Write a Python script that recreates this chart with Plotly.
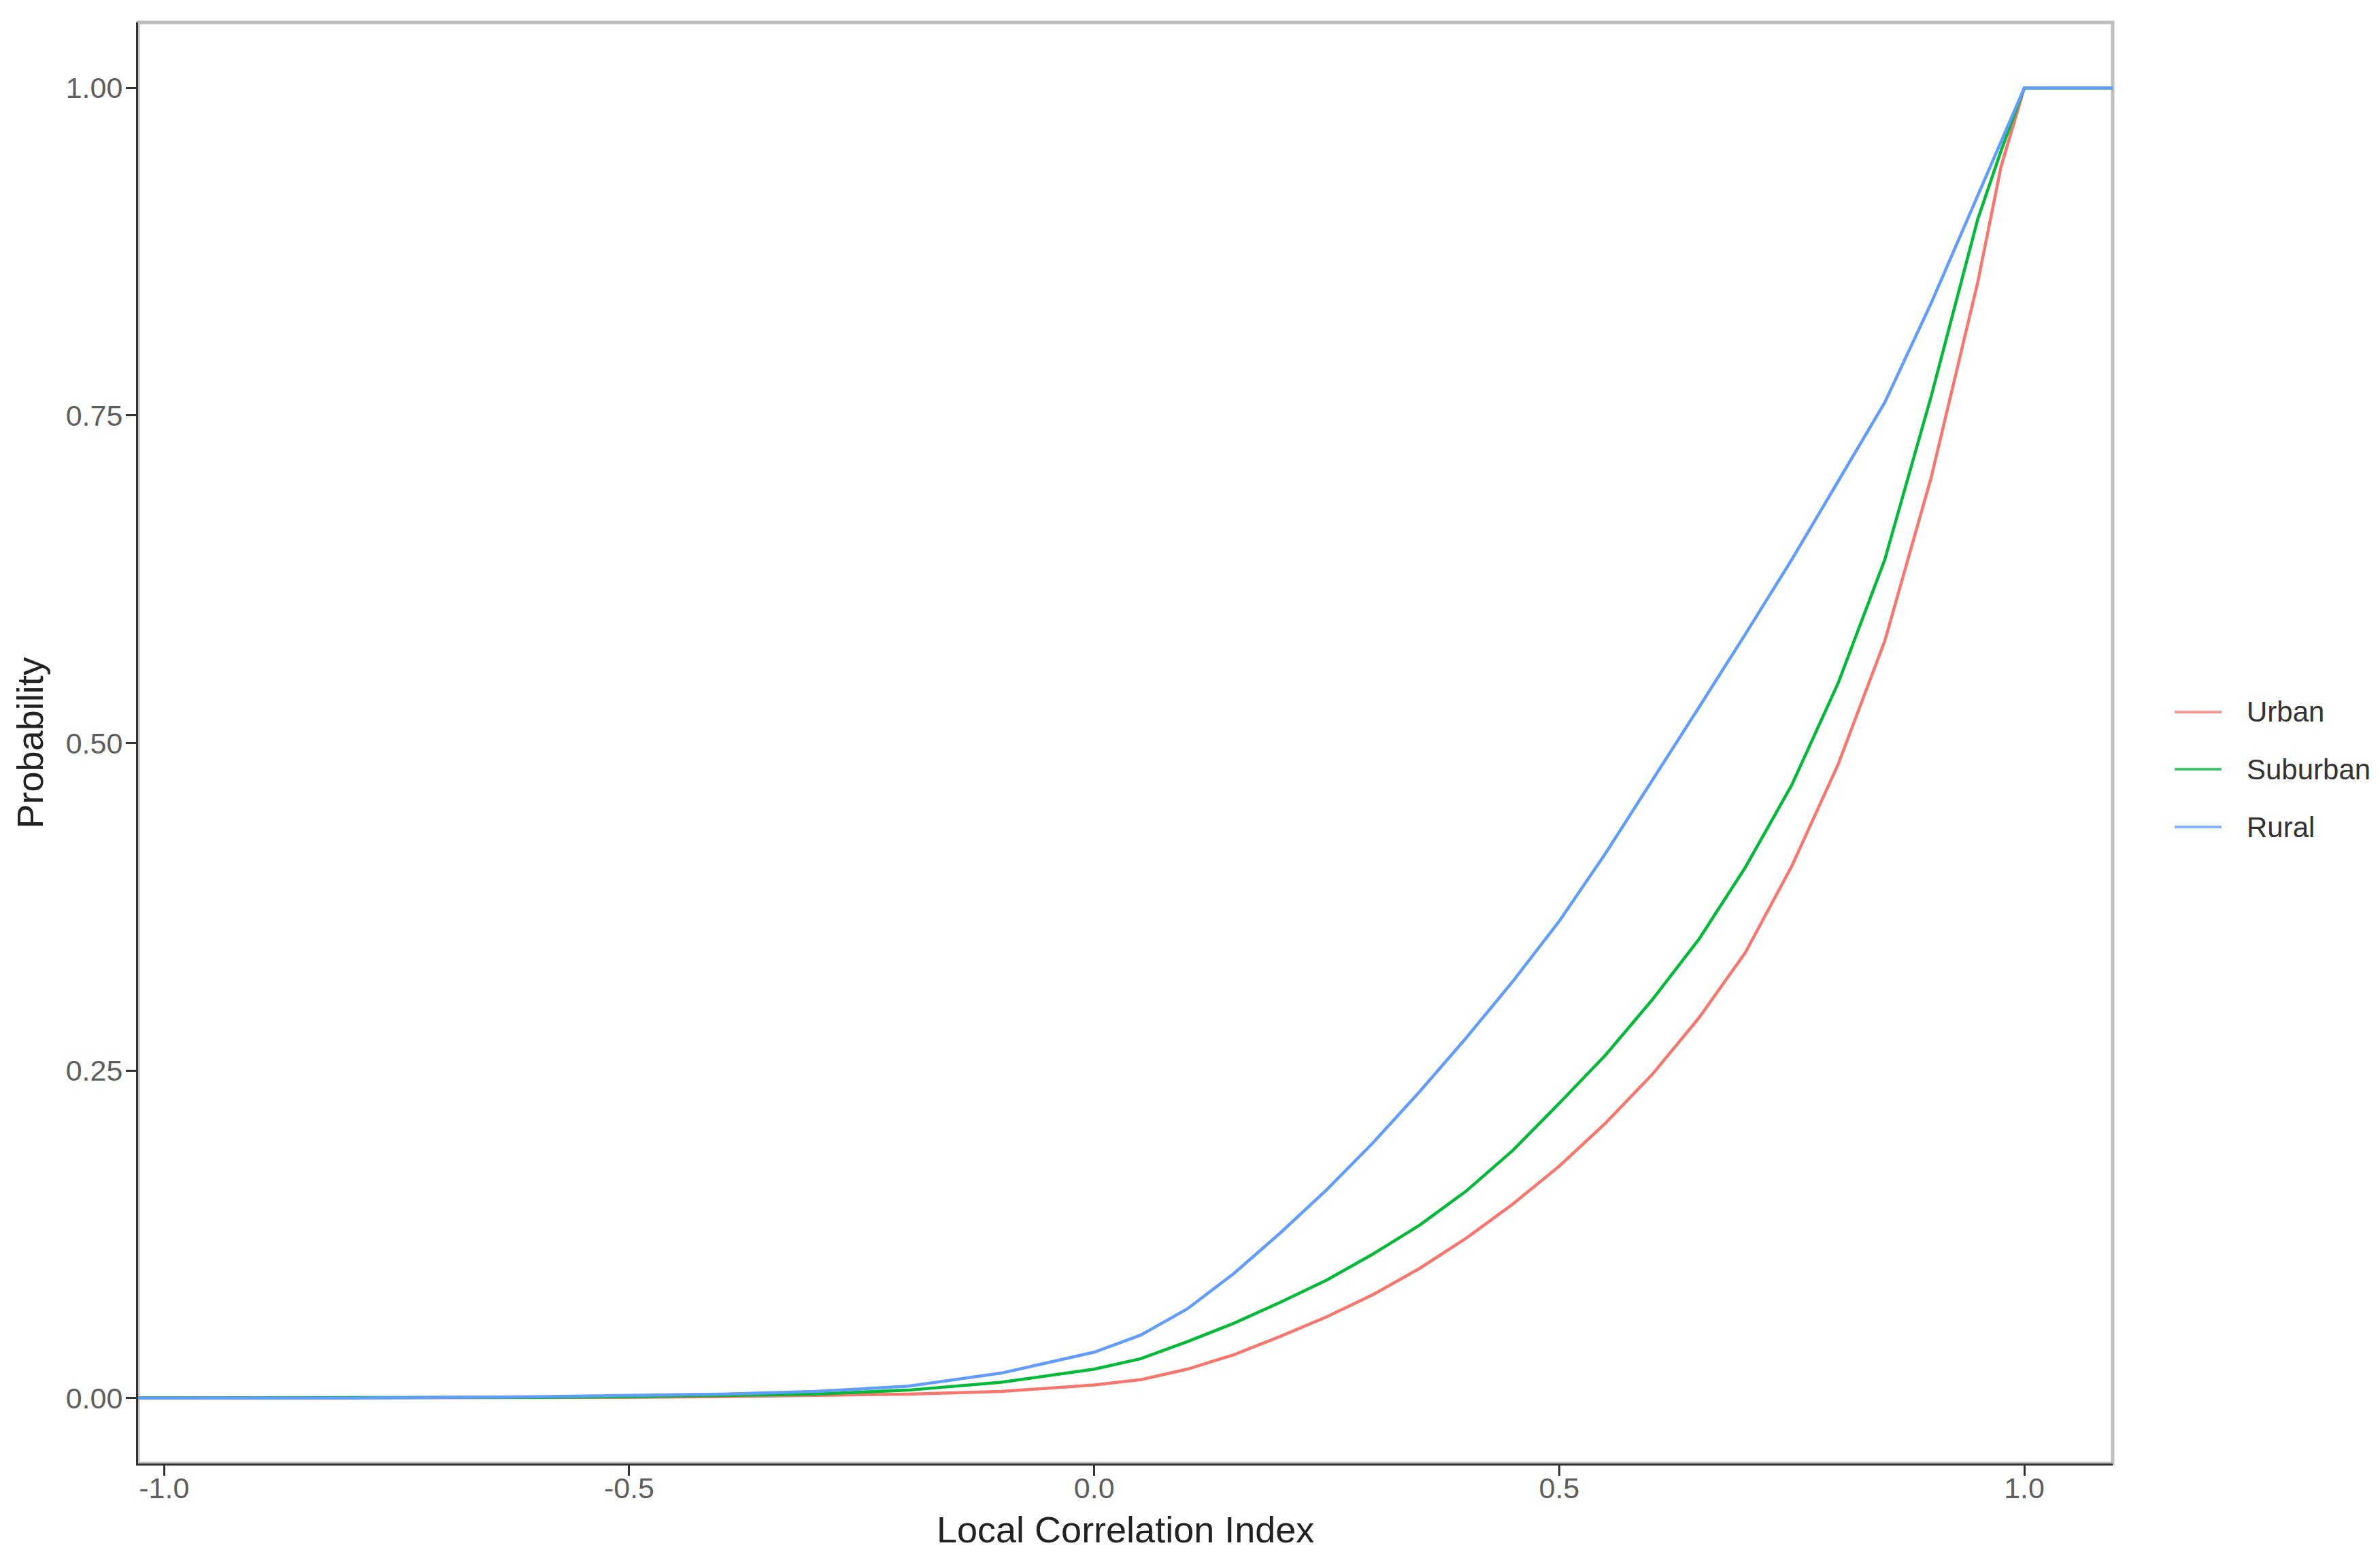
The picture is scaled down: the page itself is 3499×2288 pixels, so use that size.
import plotly.graph_objects as go

# ---- data ----
x_vals = [-1.1, -1.0, -0.8, -0.6, -0.5, -0.4, -0.3, -0.2, -0.1, 0.0, 0.05, 0.1, 0.15, 0.2,
          0.25, 0.3, 0.35, 0.4, 0.45, 0.5, 0.55, 0.6, 0.65, 0.7, 0.75, 0.8, 0.85, 0.9,
          0.95, 0.975, 1.0, 1.05, 1.1]

urban = [0, 0, 0, 0.0003, 0.0005, 0.001, 0.002, 0.003, 0.005, 0.010, 0.014, 0.022, 0.033,
         0.047, 0.062, 0.079, 0.099, 0.122, 0.148, 0.177, 0.210, 0.247, 0.290, 0.340, 0.406,
         0.484, 0.578, 0.703, 0.852, 0.940, 1.0, 1.0, 1.0]

suburban = [0, 0, 0, 0.0005, 0.001, 0.002, 0.003, 0.006, 0.012, 0.022, 0.030, 0.043, 0.057,
            0.073, 0.090, 0.110, 0.132, 0.158, 0.189, 0.225, 0.262, 0.304, 0.350, 0.405, 0.468,
            0.546, 0.640, 0.765, 0.900, 0.952, 1.0, 1.0, 1.0]

rural = [0, 0, 0, 0.001, 0.002, 0.003, 0.005, 0.009, 0.019, 0.035, 0.048, 0.068, 0.095,
         0.126, 0.159, 0.195, 0.234, 0.275, 0.318, 0.364, 0.416, 0.471, 0.527, 0.583, 0.640,
         0.700, 0.760, 0.836, 0.918, 0.960, 1.0, 1.0, 1.0]

series_names = ["Urban", "Suburban", "Rural"]
series_values = [urban, suburban, rural]
series_colors = ["#F8766D", "#00BA38", "#619CFF"]

x_ticks = [-1.0, -0.5, 0.0, 0.5, 1.0]
x_ticktext = ["-1.0", "-0.5", "0.0", "0.5", "1.0"]
y_ticks = [0.0, 0.25, 0.5, 0.75, 1.0]
y_ticktext = ["0.00", "0.25", "0.50", "0.75", "1.00"]

x_title = "Local Correlation Index"
y_title = "Probability"

FONT = "Liberation Sans, Arial, sans-serif"

fig = go.Figure()
for name, vals, col in zip(series_names, series_values, series_colors):
    fig.add_trace(go.Scatter(x=x_vals, y=vals, mode="lines", name=name,
                             line=dict(color=col, width=4.5), showlegend=False))

axis_common = dict(showgrid=False, zeroline=False, showline=True, linecolor="#333333",
                   linewidth=3, ticks="outside", ticklen=15, tickwidth=3, tickcolor="#333333",
                   tickfont=dict(family=FONT, size=43, color="#5e5e5e"))

fig.update_layout(
    width=3499, height=2288,
    margin=dict(l=195, r=401, t=25, b=144),
    paper_bgcolor="white", plot_bgcolor="white",
    font=dict(family=FONT),
    xaxis=dict(range=[-1.028, 1.095], tickvals=x_ticks, ticktext=x_ticktext,
               ticklabelstandoff=-19, **axis_common),
    yaxis=dict(range=[-0.05, 1.05], tickvals=y_ticks, ticktext=y_ticktext,
               ticklabelstandoff=-4, **axis_common),
)

# panel border (gray)
fig.add_shape(type="rect", xref="paper", yref="paper", x0=0, x1=1, y0=0, y1=1,
              line=dict(color="#BEBEBE", width=5), layer="below")

# axis titles
fig.add_annotation(text=x_title, xref="paper", yref="paper", x=0.5, y=-0.0456,
                   xanchor="center", yanchor="middle", showarrow=False,
                   font=dict(family=FONT, size=54, color="#222222"))
fig.add_annotation(text=y_title, xref="paper", yref="paper", x=-0.0548, y=0.5,
                   xanchor="center", yanchor="middle", textangle=-90, showarrow=False,
                   font=dict(family=FONT, size=54, color="#222222"))

# legend (manual, ggplot style)
leg_y = [0.5215, 0.4818, 0.4417]
for name, col, yy in zip(series_names, series_colors, leg_y):
    fig.add_shape(type="line", xref="paper", yref="paper", x0=1.0314, x1=1.0551, y0=yy, y1=yy,
                  line=dict(color=col, width=4), opacity=0.75)
    fig.add_annotation(text=name, xref="paper", yref="paper", x=1.0672, y=yy,
                       xanchor="left", yanchor="middle", showarrow=False,
                       font=dict(family=FONT, size=42, color="#333333"))

fig.write_html("out.html")
